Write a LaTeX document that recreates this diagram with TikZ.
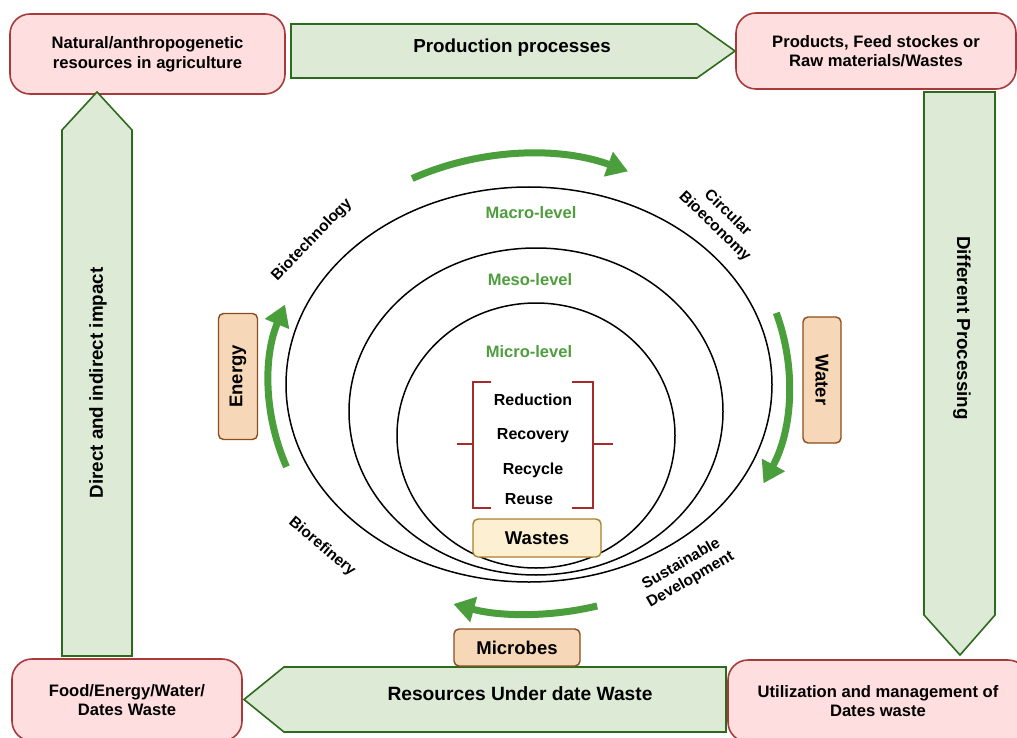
\documentclass[tikz,border=0pt]{standalone}
\usepackage{fontspec}
\setmainfont{Liberation Sans}
\usetikzlibrary{arrows.meta}
\definecolor{pinkfill}{HTML}{FFDEDF}
\definecolor{pinkline}{HTML}{A83A3C}
\definecolor{grfill}{HTML}{DDEBD6}
\definecolor{grline}{HTML}{2E6A1D}
\definecolor{peach}{HTML}{F6D7B8}
\definecolor{brownline}{HTML}{8C4E1E}
\definecolor{cream}{HTML}{FDF0D2}
\definecolor{goldline}{HTML}{A6822A}
\definecolor{levelgreen}{HTML}{4E9E3E}
\definecolor{arrowgreen}{HTML}{4A9E3C}
\definecolor{bracketred}{HTML}{A52A2A}
\begin{document}
\begin{tikzpicture}[x=1pt,y=-1pt,
  pinkbox/.style={draw=pinkline,fill=pinkfill,line width=1.6pt,rounded corners=20pt,align=center,
    font=\fontsize{16.6}{19.5}\selectfont\bfseries,inner sep=0pt},
  blockarrow/.style={draw=grline,fill=grfill,line width=1.6pt,line join=miter},
  bigtext/.style={font=\fontsize{18.8}{22}\selectfont\bfseries},
  tagbox/.style={draw=brownline,fill=peach,line width=1.4pt,rounded corners=5pt,inner sep=0pt,
    font=\fontsize{18.5}{22}\selectfont\bfseries},
  wastebox/.style={draw=goldline,fill=cream,line width=1.4pt,rounded corners=5pt,inner sep=0pt,
    font=\fontsize{18.5}{22}\selectfont\bfseries},
  ring/.style={line width=1.5pt},
  cyclearrow/.style={draw=arrowgreen,line width=7pt,-{Triangle[length=21pt,width=25pt]}},
  leveltext/.style={text=levelgreen,font=\fontsize{16.5}{19}\selectfont\bfseries},
  itemtext/.style={font=\fontsize{16}{19}\selectfont\bfseries},
  rtext/.style={font=\fontsize{15.5}{18.5}\selectfont\bfseries,align=center},
  bracket/.style={draw=bracketred,line width=2pt}
]
\clip (0,0) rectangle (1017,738);
\fill[white] (0,0) rectangle (1017,738);

% corner boxes
\node[pinkbox,minimum width=275pt,minimum height=80pt] (nat) at (147.5,54)
  {Natural/anthropogenetic\\resources in agriculture};
\node[pinkbox,minimum width=280pt,minimum height=76pt] (prod) at (876,51)
  {Products, Feed stockes or\\Raw materials/Wastes};
\node[pinkbox,minimum width=300pt,minimum height=82pt] (util) at (878,701)
  {Utilization and management of\\Dates waste};
\node[pinkbox,minimum width=230pt,minimum height=82pt] (food) at (127,700)
  {Food/Energy/Water/\\Dates Waste};

% block arrows
\draw[blockarrow] (291,24) -- (697,24) -- (735,51) -- (697,78) -- (291,78) -- cycle;
\node[bigtext] (pp) at (512,48) {Production processes};
\draw[blockarrow] (924,92) -- (995,92) -- (995,615) -- (960,655) -- (924,615) -- cycle;
\node[bigtext,rotate=-90] (dp) at (962,328) {Different Processing};
\draw[blockarrow] (726,667) -- (726,732) -- (284,732) -- (244,699.5) -- (284,667) -- cycle;
\node[bigtext,font=\fontsize{19.2}{22}\selectfont\bfseries] (ru) at (520,694) {Resources Under date Waste};
\draw[blockarrow] (62,656) -- (62,130) -- (97,92) -- (132,130) -- (132,656) -- cycle;
\node[bigtext,rotate=90] (di) at (98,383) {Direct and indirect impact};

% rings
\draw[ring] (529,384.5) ellipse [x radius=243pt, y radius=197.5pt];
\draw[ring] (536,411.5) ellipse [x radius=187pt, y radius=163.5pt];
\draw[ring] (536,435.5) ellipse [x radius=139pt, y radius=132.5pt];

\node[leveltext] (macro) at (531,213) {Macro-level};
\node[leveltext] (meso) at (530,280) {Meso-level};
\node[leveltext] (micro) at (529,352) {Micro-level};

% brackets
\draw[bracket] (491,382) -- (473,382) -- (473,508) -- (491,508);
\draw[bracket] (457,444) -- (473,444);
\draw[bracket] (572,382) -- (593,382) -- (593,508) -- (572,508);
\draw[bracket] (593,444) -- (613,444);
\node[itemtext] (r1) at (533,400) {Reduction};
\node[itemtext] (r2) at (533,436) {Recovery};
\node[itemtext] (r3) at (533,470) {Recycle};
\node[itemtext] (r4) at (529,499) {Reuse};

\node[wastebox,minimum width=128pt,minimum height=38pt] (wastes) at (537,538) {Wastes};

% side tags
\node[tagbox,rotate=90,minimum width=126pt,minimum height=39pt] (energy) at (238,376.5) {Energy};
\node[tagbox,rotate=-90,minimum width=126pt,minimum height=38pt] (water) at (822,380) {Water};
\node[tagbox,minimum width=126pt,minimum height=37pt] (microbes) at (517,647.5) {Microbes};

% cycle arrows
\coordinate (cc) at (529,384);
\draw[cyclearrow] ([shift={(-116.7:260 and 230)}]cc) arc[start angle=-116.7,end angle=-67.6,x radius=260,y radius=230];
\draw[cyclearrow] ([shift={(-18:260 and 230)}]cc) arc[start angle=-18,end angle=25.6,x radius=260,y radius=230];
\draw[cyclearrow] ([shift={(74.8:260 and 230)}]cc) arc[start angle=74.8,end angle=106.9,x radius=260,y radius=230];
\draw[cyclearrow] ([shift={(158.9:260 and 230)}]cc) arc[start angle=158.9,end angle=200.2,x radius=260,y radius=230];

% rotated labels
\node[rtext,rotate=46] (biotech) at (312,240) {Biotechnology};
\node[rtext,rotate=-44] (circ) at (721,220) {Circular\\Bioeconomy};
\node[rtext,rotate=-40] (biorefinery) at (322,547) {Biorefinery};
\node[rtext,rotate=30] (sust) at (686,572) {Sustainable\\Development};
\end{tikzpicture}
\end{document}
